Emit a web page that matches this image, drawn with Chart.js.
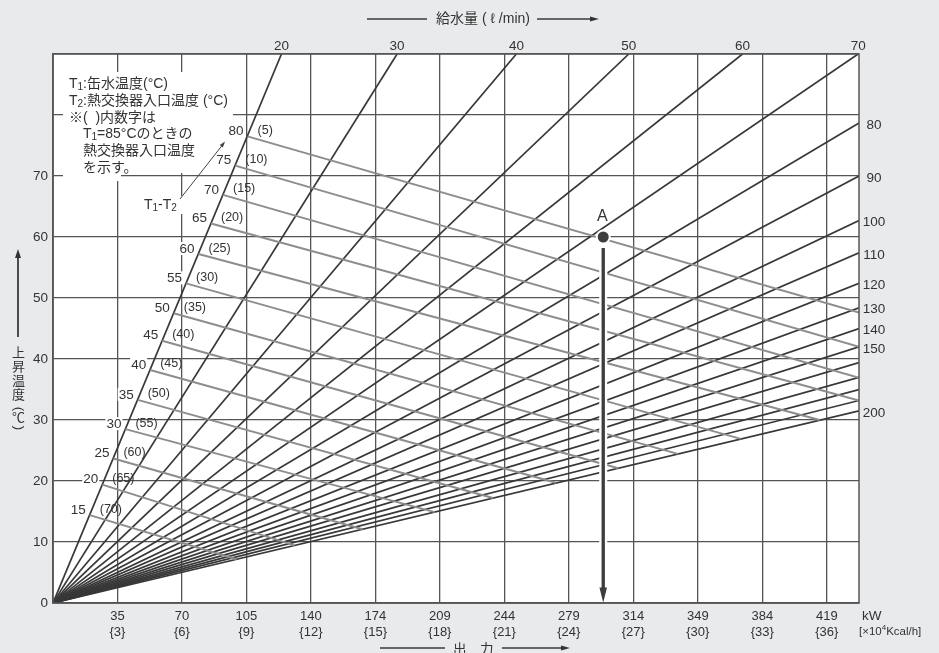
<!DOCTYPE html>
<html>
<head>
<meta charset="utf-8">
<script src="https://cdn.jsdelivr.net/npm/chart.js@4.4.1/dist/chart.umd.min.js"></script>
<style>
    html, body { margin: 0; padding: 0; background: #e9eaec; }
    canvas { display: block; }
</style>
</head>
<body>
<canvas id="chart" width="939" height="653"></canvas>
<script>
/* ---------- DATA (x in 10^4 kcal/h, y in °C rise) ---------- */
const flowRates = [20, 30, 40, 50, 60, 70, 80, 90, 100, 110, 120, 130, 140, 150, 160, 170, 180, 190, 200];
const flowEndX = [10.63, 16.01, 21.56, 26.79, 32.08, 37.46, 37.5, 37.5, 37.5, 37.5, 37.5, 37.5, 37.5, 37.5, 37.5, 37.5, 37.5, 37.5, 37.5];
const flowEndY = [90, 90, 90, 90, 90, 90, 78.7, 70.0, 62.7, 57.4, 52.4, 48.4, 45.0, 42.0, 39.4, 37.0, 35.0, 33.2, 31.5];
const topFlowLabels = [20, 30, 40, 50, 60, 70];
const sideFlowLabels = [80, 90, 100, 110, 120, 130, 140, 150, 200];

const tempDiffs = [80, 75, 70, 65, 60, 55, 50, 45, 40, 35, 30, 25, 20, 15];
const inletTemps = [5, 10, 15, 20, 25, 30, 35, 40, 45, 50, 55, 60, 65, 70];
const diffStartX = [9.05, 8.48, 7.91, 7.35, 6.77, 6.19, 5.62, 5.08, 4.52, 3.94, 3.37, 2.81, 2.29, 1.71];
const diffStartY = [76.5, 71.7, 66.9, 62.2, 57.2, 52.4, 47.5, 43.0, 38.2, 33.3, 28.5, 23.7, 19.4, 14.4];
const diffEndX = [37.5, 37.5, 37.5, 37.5, 35.67, 32.0, 29.07, 26.3, 23.4, 20.47, 17.76, 14.4, 11.24, 8.53];
const diffEndY = [47.6, 42.0, 36.9, 33.2, 30.0, 26.9, 24.45, 22.1, 19.7, 17.2, 14.9, 12.1, 9.45, 7.18];

const xTicks = [0, 3, 6, 9, 12, 15, 18, 21, 24, 27, 30, 33, 36];
const kwLabels = ["35", "70", "105", "140", "174", "209", "244", "279", "314", "349", "384", "419"];
const yTicks = [0, 10, 20, 30, 40, 50, 60, 70];

const pointA = { x: 25.6, y: 60 };

/* ---------- STYLE ---------- */
const FONT = '"Liberation Sans", "Noto Sans CJK JP", Arial, sans-serif';
const INK = "#333333";
const GRID = "#555555";

function setFont(ctx, size) {
    ctx.font = size + "px " + FONT;
}

// text with subscript / superscript parts: [text, "sub"|"sup"|undefined]
function richText(ctx, x, y, parts, size) {
    let cx = x;
    parts.forEach(([t, mode]) => {
        const s = mode ? Math.round(size * 0.68) : size;
        setFont(ctx, s);
        const dy = mode === "sub" ? size * 0.2 : mode === "sup" ? -size * 0.35 : 0;
        ctx.fillText(t, cx, y + dy);
        cx += ctx.measureText(t).width;
    });
}

function arrowHead(ctx, x, y, dirX, dirY, len, half) {
    const px = -dirY, py = dirX;
    ctx.beginPath();
    ctx.moveTo(x, y);
    ctx.lineTo(x - dirX * len + px * half, y - dirY * len + py * half);
    ctx.lineTo(x - dirX * len - px * half, y - dirY * len - py * half);
    ctx.closePath();
    ctx.fill();
}

function hLine(ctx, x1, x2, y) {
    ctx.beginPath();
    ctx.moveTo(x1, y);
    ctx.lineTo(x2, y);
    ctx.stroke();
}

/* ---------- DATASETS ---------- */
const datasets = [];

flowRates.forEach((f, i) => {
    datasets.push({
        label: f + " l/min",
        data: [{ x: 0, y: 0 }, { x: flowEndX[i], y: flowEndY[i] }],
        borderColor: "#383838",
        borderWidth: 1.7,
        order: 4
    });
});

tempDiffs.forEach((d, i) => {
    datasets.push({
        label: "T1-T2 " + d,
        data: [{ x: diffStartX[i], y: diffStartY[i] }, { x: diffEndX[i], y: diffEndY[i] }],
        borderColor: "#8d8d8d",
        borderWidth: 2,
        order: 3
    });
});

// vertical read-off arrow from A (white halo + dark line)
datasets.push({
    label: "halo",
    data: [{ x: pointA.x, y: pointA.y - 1.2 }, { x: pointA.x, y: 1.6 }],
    borderColor: "#ffffff",
    borderWidth: 8,
    order: 2
});
datasets.push({
    label: "arrow",
    data: [{ x: pointA.x, y: pointA.y - 1.8 }, { x: pointA.x, y: 1.5 }],
    borderColor: "#3d3d3d",
    borderWidth: 3.3,
    order: 1
});
datasets.push({
    label: "A",
    data: [pointA],
    showLine: false,
    pointRadius: 6.5,
    pointBackgroundColor: "#3d3d3d",
    pointBorderColor: "#ffffff",
    pointBorderWidth: 2,
    order: 0
});

/* ---------- DECORATION PLUGIN ---------- */
const decor = {
    id: "decor",
    beforeDraw(chart) {
        const { ctx, chartArea: a } = chart;
        ctx.save();
        ctx.fillStyle = "#ffffff";
        ctx.fillRect(a.left, a.top, a.right - a.left, a.bottom - a.top);
        ctx.restore();
    },
    beforeDatasetsDraw(chart) {
        const { ctx, scales } = chart;
        const X = v => scales.x.getPixelForValue(v);
        const Y = v => scales.y.getPixelForValue(v);
        ctx.save();
        ctx.fillStyle = "#ffffff";
        // note box
        ctx.fillRect(63, 72, 170, 101);
        ctx.fillRect(63, 172, 58, 9);
        // T1-T2 label
        ctx.fillRect(141, 196, 44, 18);
        // number labels on the T1-T2 lines
        setFont(ctx, 13.5);
        tempDiffs.forEach((d, i) => {
            const sx = X(diffStartX[i]), sy = Y(diffStartY[i]);
            const w = ctx.measureText(String(d)).width;
            ctx.fillRect(sx - 5 - w, sy - 12, w + 2, 13);
        });
        ctx.restore();
    },
    afterDatasetsDraw(chart) {
        const { ctx, chartArea: a, scales } = chart;
        const X = v => scales.x.getPixelForValue(v);
        const Y = v => scales.y.getPixelForValue(v);
        ctx.save();

        // frame
        ctx.strokeStyle = GRID;
        ctx.lineWidth = 1.5;
        ctx.strokeRect(a.left, a.top, a.right - a.left, a.bottom - a.top);

        // arrow head at bottom of A read-off
        ctx.fillStyle = "#3d3d3d";
        arrowHead(ctx, X(pointA.x), Y(0) - 0.5, 0, 1, 15, 3.8);

        ctx.fillStyle = INK;
        ctx.textBaseline = "middle";

        // A label
        setFont(ctx, 16);
        ctx.textAlign = "center";
        ctx.fillText("A", X(pointA.x) - 1, Y(pointA.y) - 20);

        // y tick labels
        setFont(ctx, 13.5);
        ctx.textAlign = "right";
        yTicks.forEach(v => ctx.fillText(String(v), 48, Y(v)));

        // x tick labels
        ctx.textAlign = "center";
        xTicks.slice(1).forEach((v, i) => {
            setFont(ctx, 13);
            ctx.fillText(kwLabels[i], X(v), 616);
            ctx.fillText("{" + v + "}", X(v), 632);
        });
        ctx.textAlign = "left";
        setFont(ctx, 13.5);
        ctx.fillText("kW", 862, 616);
        richText(ctx, 859, 632, [["[×10"], ["4", "sup"], ["Kcal/h]"]], 11.5);

        // flow-rate labels
        ctx.textAlign = "center";
        setFont(ctx, 13.5);
        topFlowLabels.forEach(f => {
            const i = flowRates.indexOf(f);
            ctx.fillText(String(f), X(flowEndX[i]), 46);
        });
        sideFlowLabels.forEach(f => {
            const i = flowRates.indexOf(f);
            ctx.fillText(String(f), 874, Y(flowEndY[i]) + 2);
        });

        // T1-T2 labels
        tempDiffs.forEach((d, i) => {
            const sx = X(diffStartX[i]), sy = Y(diffStartY[i]);
            setFont(ctx, 13.5);
            ctx.textAlign = "right";
            ctx.fillText(String(d), sx - 4, sy - 5);
            setFont(ctx, 12.5);
            ctx.textAlign = "left";
            ctx.fillText("(" + inletTemps[i] + ")", sx + 10, sy - 6);
        });

        // note text
        ctx.textAlign = "left";
        const fs = 14;
        richText(ctx, 69, 84, [["T"], ["1", "sub"], [":缶水温度(°C)"]], fs);
        richText(ctx, 69, 101, [["T"], ["2", "sub"], [":熱交換器入口温度 (°C)"]], fs);
        richText(ctx, 69, 118, [["※(  )内数字は"]], fs);
        richText(ctx, 83, 134, [["T"], ["1", "sub"], ["=85°Cのときの"]], fs);
        richText(ctx, 83, 151, [["熱交換器入口温度"]], fs);
        richText(ctx, 83, 168, [["を示す。"]], fs);

        // T1-T2 pointer
        richText(ctx, 144, 205, [["T"], ["1", "sub"], ["-T"], ["2", "sub"]], 14);
        ctx.strokeStyle = "#444";
        ctx.lineWidth = 1;
        ctx.beginPath();
        ctx.moveTo(180, 199);
        ctx.lineTo(224, 143);
        ctx.stroke();
        ctx.fillStyle = "#444";
        const dl = Math.hypot(44, 56);
        arrowHead(ctx, 225, 141.5, 44 / dl, -56 / dl, 6, 2);
        ctx.fillStyle = INK;

        // top title
        ctx.strokeStyle = "#3a3a3a";
        ctx.lineWidth = 1.5;
        hLine(ctx, 367, 427, 19);
        setFont(ctx, 14);
        ctx.fillText("給水量 ( ℓ /min)", 436, 19);
        hLine(ctx, 537, 592, 19);
        arrowHead(ctx, 599, 19, 1, 0, 9, 2.5);

        // bottom title
        hLine(ctx, 380, 445, 648);
        setFont(ctx, 13.5);
        ctx.fillText("出　力", 453, 650);
        hLine(ctx, 502, 563, 648);
        arrowHead(ctx, 570, 648, 1, 0, 9, 2.5);

        // y title (vertical)
        ctx.lineWidth = 1.8;
        ctx.beginPath();
        ctx.moveTo(18, 337);
        ctx.lineTo(18, 256);
        ctx.stroke();
        arrowHead(ctx, 18, 249, 0, -1, 9, 3);
        ctx.textAlign = "center";
        setFont(ctx, 13);
        ["上", "昇", "温", "度"].forEach((c, i) => ctx.fillText(c, 18.5, 353 + i * 14.3));
        ctx.fillText("℃", 18.5, 418);
        [["(", 409], [")", 428]].forEach(([c, y]) => {
            ctx.save();
            ctx.translate(18.5, y);
            ctx.rotate(Math.PI / 2);
            ctx.fillText(c, 0, 0);
            ctx.restore();
        });

        ctx.restore();
    }
};

/* ---------- CHART ---------- */
new Chart(document.getElementById("chart"), {
    type: "scatter",
    data: { datasets },
    options: {
        responsive: false,
        animation: false,
        events: [],
        layout: { padding: { left: 53, top: 54, right: 80, bottom: 50 } },
        elements: {
            point: { radius: 0 },
            line: { tension: 0 }
        },
        datasets: { scatter: { showLine: true } },
        plugins: { legend: { display: false }, tooltip: { enabled: false } },
        scales: {
            x: {
                type: "linear",
                min: 0,
                max: 37.5,
                afterBuildTicks: s => { s.ticks = xTicks.map(v => ({ value: v })); },
                afterFit: s => { s.height = 0; },
                ticks: { display: false },
                grid: { color: GRID, lineWidth: 1.3, drawTicks: false },
                border: { color: GRID, width: 1.5 }
            },
            y: {
                type: "linear",
                min: 0,
                max: 90,
                ticks: { display: false, stepSize: 10 },
                afterFit: s => { s.width = 0; },
                grid: { color: GRID, lineWidth: 1.3, drawTicks: false },
                border: { color: GRID, width: 1.5 }
            }
        }
    },
    plugins: [decor]
});
</script>
</body>
</html>
